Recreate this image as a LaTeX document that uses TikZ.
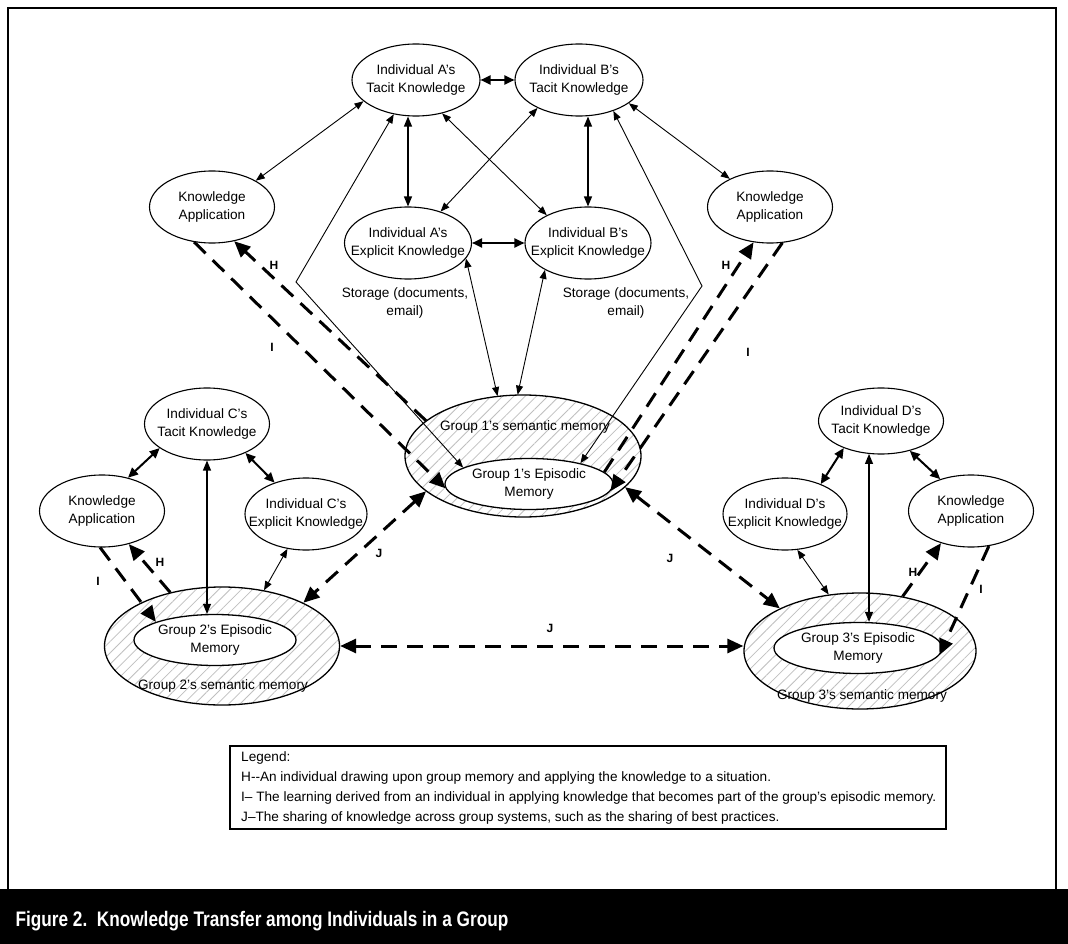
\documentclass[tikz,border=0pt]{standalone}
\usepackage{fontspec}
\setmainfont{Liberation Sans}
\newfontfamily\capfont[FakeStretch=0.82]{Liberation Sans}
\usetikzlibrary{shapes.geometric, arrows.meta, patterns.meta}

\begin{document}
\begin{tikzpicture}[x=1pt, y=-1pt,
        know/.style={draw, ellipse, line width=1.1pt, minimum width=125pt, minimum height=72pt,
                     inner xsep=-16pt, inner ysep=0pt, align=center, font=\fontsize{13.6}{18}\selectfont},
        semring/.style={draw, ellipse, line width=1.3pt, minimum width=236pt, minimum height=120pt,
                     pattern={Lines[angle=45, distance=8pt, line width=0.8pt]}, pattern color=gray!50},
        epi/.style={draw, ellipse, line width=1.3pt, fill=white, minimum width=166pt, minimum height=51pt,
                     inner xsep=-12pt, inner ysep=-4pt, align=center, font=\fontsize{13.6}{17.5}\selectfont},
        memtext/.style={font=\fontsize{13.6}{17.5}\selectfont, align=center, inner sep=0pt},
        tag/.style={font=\bfseries\fontsize{12}{12}\selectfont, inner sep=0pt},
        link/.style={line width=0.9pt, >={Triangle[length=9pt, width=7pt]}, <->},
        vlink/.style={line width=1.2pt, >={Triangle[length=10pt, width=8pt]}, <->},
        biglink/.style={line width=2pt, >={Triangle[length=10pt, width=9pt]}, <->},
        flow/.style={line width=3pt, dash pattern=on 16pt off 10pt, >={Triangle[length=16pt, width=14pt]}, ->},
        share/.style={flow, <->}]
                \useasboundingbox (0,0) rectangle (1068,944);
                \fill[white] (0,0) rectangle (1068,944);

                % frame and caption band
                \draw[line width=2.5pt] (8,890) -- (8,8) -- (1056,8) -- (1056,890);
                \fill[black] (0,889) rectangle (1068,944);
                \node[anchor=base west, text=white, font=\capfont\bfseries\fontsize{21}{21}\selectfont] (cap) at (12,926)
                    {Figure 2.\ \ Knowledge Transfer among Individuals in a Group};

                % individuals A and B
                \node[know, minimum width=128pt] (tA) at (416,80) {Individual A's\\Tacit Knowledge};
                \node[know, minimum width=128pt] (tB) at (579,80) {Individual B's\\Tacit Knowledge};
                \node[know, minimum width=127pt] (eA) at (408,243) {Individual A's\\Explicit Knowledge};
                \node[know, minimum width=126pt] (eB) at (588,243) {Individual B's\\Explicit Knowledge};
                \node[know] (kA) at (212,207) {Knowledge\\Application};
                \node[know] (kB) at (770,207) {Knowledge\\Application};
                \node[memtext] (stA) at (405,303) {Storage (documents,\\email)};
                \node[memtext] (stB) at (626,303) {Storage (documents,\\email)};

                % group 1
                \node[semring, minimum height=122pt] (g1sem) at (523,456) {};
                \node[epi, minimum width=168pt] (g1epi) at (529,484) {Group 1's Episodic\\Memory};
                \node[memtext] (g1txt) at (525,427) {Group 1's semantic memory};

                % group 2
                \node[know] (tC) at (207,424) {Individual C's\\Tacit Knowledge};
                \node[know] (kC) at (102,511) {Knowledge\\Application};
                \node[know, minimum width=122pt] (eC) at (306,514) {Individual C's\\Explicit Knowledge};
                \node[semring, minimum width=235pt, minimum height=118pt] (g2sem) at (222,646) {};
                \node[epi, minimum width=162pt] (g2epi) at (215,640) {Group 2's Episodic\\Memory};
                \node[memtext] (g2txt) at (223,686) {Group 2's semantic memory};

                % group 3
                \node[know, minimum height=66pt] (tD) at (881,421) {Individual D's\\Tacit Knowledge};
                \node[know, minimum width=124pt] (eD) at (785,514) {Individual D's\\Explicit Knowledge};
                \node[know] (kD) at (971,511) {Knowledge\\Application};
                \node[semring, minimum width=232pt, minimum height=116pt] (g3sem) at (860,651) {};
                \node[epi, minimum width=168pt] (g3epi) at (858,648) {Group 3's Episodic\\Memory};
                \node[memtext] (g3txt) at (862,696) {Group 3's semantic memory};

                \draw[biglink] (tA.east) -- (tB.west);
                \draw[biglink] (eA.east) -- (eB.west);
                \draw[link] (tA.202) -- (kA.31);
                \draw[vlink] (eA.north) -- (eA.north |- tA.south);
                \draw[link] (tA.308) -- (eB.146);
                \draw[link] (tB.214) -- (eA.44);
                \draw[vlink] (eB.north) -- (eB.north |- tB.south);
                \draw[link] (tB.335) -- (kB.145);
                \coordinate (bendA) at (296,282);
                \coordinate (bendB) at (702,286);
                \draw[link] (tA.237) -- (bendA) -- (g1epi.166);
                \draw[link] (tB.318) -- (bendB) -- (g1epi.22);
                \draw[link] (eA.345) -- (g1sem.113);
                \draw[link] (eB.212) -- (g1sem.95);

                \draw[flow] (kA.243) -- (g1epi.183);
                \draw[flow] (g1sem.160) -- (kA.303);
                \draw[flow] (g1epi.9) -- (kB.245);
                \draw[flow] (kB.289) -- (g1epi.355);

                \draw[biglink] (kC.52) -- (tC.207);
                \draw[biglink] (tC.323) -- (eC.135);
                \draw[vlink] (tC.south) -- (tC.south |- g2epi.north);
                \draw[link] (eC.242) -- (g2sem.53);
                \draw[flow] (g2sem.134) -- (kC.309);
                \draw[flow] (kC.267) -- (g2epi.163);

                \draw[biglink] (eD.40) -- (tD.216);
                \draw[biglink] (tD.314) -- (kD.134);
                \draw[vlink] (tD.250) -- (tD.250 |- g3epi.north);
                \draw[link] (eD.289) -- (g3sem.119);
                \draw[flow] (g3sem.52) -- (kD.227);
                \draw[flow] (kD.297) -- (g3epi.355);

                % sharing across groups
                \draw[share] (g1sem.200) -- (g2sem.28);
                \draw[share] (g1sem.343) -- (g3sem.152);
                \draw[share] (g2sem.east) -- (g3sem.west |- g2sem.east);

                \node[tag] (hA) at (274,265) {H};
                \node[tag] (iA) at (272,347) {I};
                \node[tag] (hB) at (726,265) {H};
                \node[tag] (iB) at (748,352) {I};
                \node[tag] (hC) at (160,562) {H};
                \node[tag] (iC) at (98,581) {I};
                \node[tag] (hD) at (913,572) {H};
                \node[tag] (iD) at (981,589) {I};
                \node[tag] (j12) at (379,553) {J};
                \node[tag] (j23) at (550,628) {J};
                \node[tag] (j13) at (670,558) {J};

                % legend
                \node[draw, line width=1.3pt, minimum width=716pt, minimum height=83pt, inner sep=0pt] (legbox) at (588,787.5) {};
                \node[anchor=north west, align=left, inner sep=0pt, font=\fontsize{13.6}{20}\selectfont] (legtxt) at (241,751)
                    {Legend:\\
                     H-{}-An individual drawing upon group memory and applying the knowledge to a situation.\\
                     I-- The learning derived from an individual in applying knowledge that becomes part of the group's episodic memory.\\
                     J--The sharing of knowledge across group systems, such as the sharing of best practices.};
            \end{tikzpicture}
\end{document}
